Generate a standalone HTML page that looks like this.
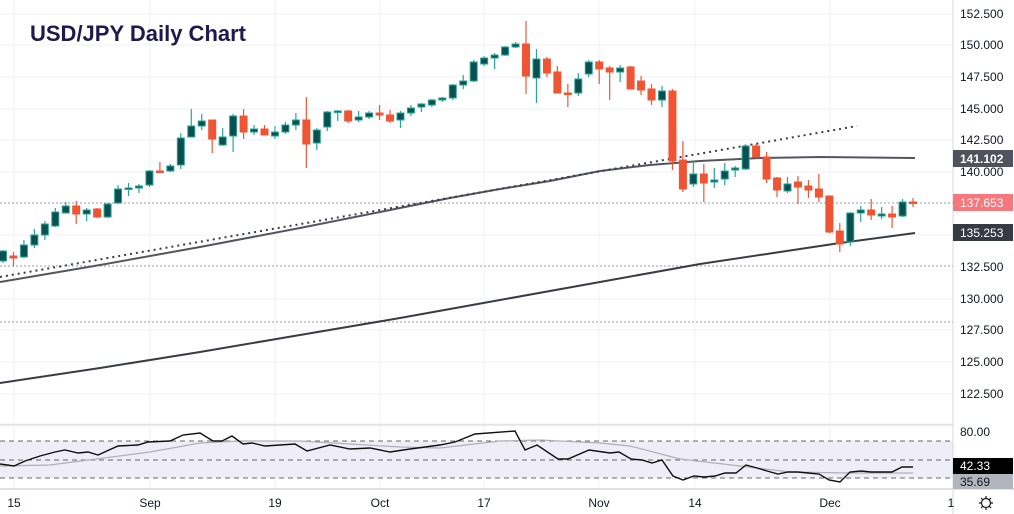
<!DOCTYPE html>
<html><head><meta charset="utf-8"><style>
html,body{margin:0;padding:0;background:#fff;}
svg{display:block;font-family:"Liberation Sans",sans-serif;}
</style></head><body>
<svg id="s" width="1014" height="514" xmlns="http://www.w3.org/2000/svg">
<rect width="1014" height="514" fill="#fff"/>
<g stroke="#eef0f3" stroke-width="1">
<line x1="0" y1="14" x2="953" y2="14"/><line x1="0" y1="45" x2="953" y2="45"/><line x1="0" y1="77" x2="953" y2="77"/><line x1="0" y1="109" x2="953" y2="109"/><line x1="0" y1="140" x2="953" y2="140"/><line x1="0" y1="172" x2="953" y2="172"/><line x1="0" y1="235" x2="953" y2="235"/><line x1="0" y1="299" x2="953" y2="299"/><line x1="0" y1="330" x2="953" y2="330"/><line x1="0" y1="362" x2="953" y2="362"/><line x1="0" y1="394" x2="953" y2="394"/><line x1="0" y1="424" x2="953" y2="424"/>
<line x1="14" y1="0" x2="14" y2="489"/><line x1="150" y1="0" x2="150" y2="489"/><line x1="275" y1="0" x2="275" y2="489"/><line x1="380" y1="0" x2="380" y2="489"/><line x1="484" y1="0" x2="484" y2="489"/><line x1="599" y1="0" x2="599" y2="489"/><line x1="695" y1="0" x2="695" y2="489"/><line x1="830" y1="0" x2="830" y2="489"/>
</g>
<g stroke="#9598a1" stroke-width="1" stroke-dasharray="2,2">
<line x1="0" y1="203" x2="953" y2="203"/><line x1="0" y1="266" x2="953" y2="266"/><line x1="0" y1="322" x2="953" y2="322"/>
</g>
<!-- RSI band -->
<rect x="0" y="441" width="953" height="37" fill="#efedf7"/>
<g stroke="#666" stroke-width="1" stroke-dasharray="5,4">
<line x1="0" y1="441" x2="953" y2="441"/><line x1="0" y1="460" x2="953" y2="460"/><line x1="0" y1="478" x2="953" y2="478"/>
</g>
<line x1="0" y1="425" x2="953" y2="425" stroke="#d6d8dd"/>
<line x1="0" y1="489" x2="1014" y2="489" stroke="#d6d8dd" stroke-width="1.5"/>
<line x1="953" y1="0" x2="953" y2="514" stroke="#d6d8dd"/>
<!-- MAs -->
<polyline fill="none" stroke="#3b3b45" stroke-width="2" points="0,383 100,368 200,352 300,335 400,318 500,300 600,282 700,264 780,252 840,243 915,233"/>
<polyline fill="none" stroke="#55555f" stroke-width="2" points="0,282 100,265 200,247 300,228 400,208 450,198 500,189 550,181 600,171 650,165 700,161 760,158 820,157 915,158"/>
<line x1="0" y1="277" x2="857" y2="126" stroke="#3b3b45" stroke-width="2" stroke-dasharray="2,4"/>
<g id="c"></g>
<!-- RSI lines -->
<polyline fill="none" stroke="#b0b0b8" stroke-width="1.2" points="0,466 50,465 150,452 200,443 240,441 300,441 400,447 440,448 500,441 540,440 600,443 630,446 680,459 740,466 790,472 850,473 913,473"/>
<polyline fill="none" stroke="#111" stroke-width="1.4" points="0,464 14,466 25,461 40,456 55,452 65,450 78,453 88,452 98,455 118,446 138,445 148,442 170,441 183,435 200,433 213,441 222,441 232,436 243,444 252,443 265,446 295,444 307,451 330,445 350,449 370,448 390,452 410,449 440,445 455,442 475,434 515,431 525,450 537,445 558,459 568,459 589,450 610,453 619,452 631,459 642,460 652,463 662,460 673,476 683,480 694,476 704,477 715,476 725,473 736,473 746,465 757,468 767,471 778,474 788,472 798,472 808,473 819,474 829,480 840,482 850,472 861,471 871,472 882,472 892,472 902,467 913,467"/>
<text x="30" y="41" font-size="22" font-weight="bold" fill="#1e1a4d">USD/JPY Daily Chart</text>
<g font-size="12" fill="#131722">
<text x="960" y="18">152.500</text><text x="960" y="49">150.000</text><text x="960" y="81">147.500</text><text x="960" y="113">145.000</text><text x="960" y="144">142.500</text><text x="960" y="176">140.000</text><text x="960" y="271">132.500</text><text x="960" y="303">130.000</text><text x="960" y="334">127.500</text><text x="960" y="366">125.000</text><text x="960" y="398">122.500</text><text x="960" y="436">80.00</text>
</g>
<rect x="953" y="150" width="60" height="17" fill="#50535e"/><text x="960" y="163" font-size="12" font-weight="bold" fill="#fff">141.102</text>
<rect x="953" y="194" width="60" height="17" fill="#f7787c"/><text x="960" y="207" font-size="12" fill="#fff">137.653</text>
<rect x="953" y="224" width="60" height="17" fill="#363a45"/><text x="960" y="237" font-size="12" fill="#fff">135.253</text>
<rect x="953" y="458" width="60" height="16" fill="#000"/><text x="960" y="470" font-size="12" fill="#fff">42.33</text>
<rect x="953" y="474" width="60" height="15" fill="#b2b5be"/><text x="960" y="486" font-size="12" fill="#131722">35.69</text>
<g font-size="12" fill="#131722" text-anchor="middle">
<text x="14" y="507">15</text><text x="150" y="507">Sep</text><text x="275" y="507">19</text><text x="380" y="507">Oct</text><text x="484" y="507">17</text><text x="599" y="507">Nov</text><text x="695" y="507">14</text><text x="830" y="507">Dec</text><text x="951" y="507">1</text>
</g>
<g transform="translate(986,503)" stroke="#131722" fill="none" stroke-width="1.2"><circle r="4.5"/><path d="M0,-7V-5M0,5V7M-7,0H-5M5,0H7M-5,-5L-3.5,-3.5M5,5L3.5,3.5M-5,5L-3.5,3.5M5,-5L3.5,-3.5"/></g>
</svg>
<script>
var d=[[251,261,250,263,1],[256,258,252,266,0],[245,257,240,258,1],[235,245,229,248,1],[224,235,221,240,1],[212,226,208,227,1],[206,213,202,213,1],[206,214,201,224,0],[210,214,208,221,1],[209,217,208,218,0],[204,217,203,218,1],[189,203,185,204,1],[188,189,183,196,1],[186,188,184,193,1],[171,185,170,187,1],[171,172,162,173,0],[166,171,164,172,1],[138,165,133,169,1],[126,137,109,137,1],[121,126,114,130,1],[120,139,120,153,0],[137,145,128,146,1],[116,136,114,152,1],[116,132,109,139,0],[129,132,125,135,1],[129,135,125,135,0],[132,136,126,139,1],[125,132,122,134,1],[120,125,113,130,1],[120,144,97,168,0],[130,143,128,150,1],[112,127,111,131,1],[111,112,110,121,1],[111,121,110,123,0],[117,120,111,122,1],[113,117,111,119,1],[113,115,105,120,0],[115,121,110,123,0],[113,120,111,128,1],[108,113,105,116,1],[104,107,103,112,1],[100,105,99,107,1],[98,100,97,102,1],[85,98,84,100,1],[81,85,75,89,1],[62,81,60,82,1],[58,64,56,66,1],[55,58,53,69,1],[47,55,46,56,1],[44,47,42,48,1],[44,76,21,94,0],[59,78,49,103,1],[59,73,57,77,0],[72,93,66,93,0],[93,94,84,107,0],[79,93,73,96,1],[62,74,60,77,1],[62,69,60,84,0],[68,72,66,100,0],[68,72,65,82,1],[67,89,66,89,0],[81,90,76,95,0],[89,100,84,105,0],[91,100,86,107,1],[91,161,89,170,0],[160,189,141,192,0],[174,184,161,187,1],[174,183,164,202,0],[180,182,168,188,1],[171,179,163,185,1],[168,170,166,177,1],[146,169,145,170,1],[146,157,144,158,0],[157,179,152,183,0],[178,190,177,197,0],[184,191,177,193,1],[182,187,176,204,0],[186,190,180,198,0],[189,197,174,202,0],[196,232,196,233,0],[231,244,223,252,0],[213,242,212,246,1],[210,213,206,222,1],[210,215,199,220,0],[214,216,207,219,1],[214,217,206,228,0],[202,216,199,217,1],[202,203,198,207,0]];
var g=document.getElementById('c'),h='';
d.forEach(function(c,i){var x=3+10.46*i,col=c[4]?'#26a69a':'#ef5533',fill=c[4]?'#0b4f4f':'#ef5533';
h+='<line x1="'+x+'" y1="'+c[2]+'" x2="'+x+'" y2="'+c[3]+'" stroke="'+col+'" stroke-width="1.2"/>';
var hh=Math.max(c[1]-c[0],1.5);
h+='<rect x="'+(x-3.5)+'" y="'+c[0]+'" width="7" height="'+hh+'" fill="'+fill+'" stroke="'+col+'" stroke-width="1"/>';});
g.innerHTML=h;
</script>
</body></html>
